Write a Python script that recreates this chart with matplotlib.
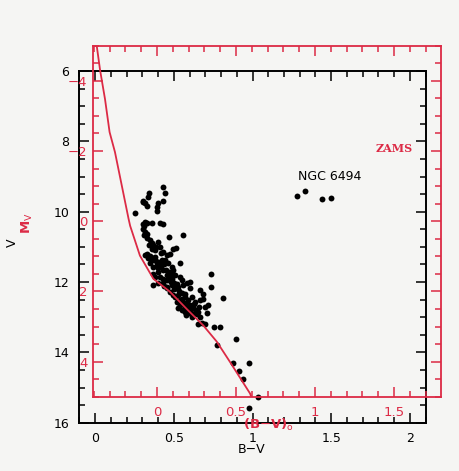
import matplotlib
matplotlib.use("Agg")
import matplotlib.pyplot as plt
from matplotlib.ticker import MultipleLocator, FixedLocator

# ---------------- data ----------------
# cluster stars (observed B-V, V)
star_bv = [0.434, 0.445, 0.434, 0.345, 0.339, 0.307, 0.318, 0.332, 0.303, 0.402, 0.396, 0.396, 0.254,
           0.318, 0.307, 0.328, 0.360, 0.303, 0.318, 0.311, 0.328, 0.349, 0.360, 0.371, 0.413, 0.434,
           0.472, 0.561, 0.402, 0.413, 0.381, 0.498, 0.515, 0.476, 0.455, 0.434, 0.318, 0.339, 0.360,
           0.381, 0.349, 0.371, 0.392, 0.413, 0.424, 0.445, 0.466, 0.540, 0.487, 0.498, 0.434, 0.402,
           0.371, 0.381, 0.413, 0.455, 0.476, 0.508, 0.540, 0.551, 0.604, 0.371, 0.402, 0.434, 0.455,
           0.487, 0.508, 0.529, 0.561, 0.582, 0.604, 0.667, 0.688, 0.735, 0.735, 0.811, 0.476, 0.498,
           0.529, 0.551, 0.572, 0.593, 0.614, 0.635, 0.667, 0.688, 0.519, 0.540, 0.561, 0.582, 0.529,
           0.551, 0.572, 0.593, 0.614, 0.635, 0.656, 0.699, 0.720, 0.709, 0.667, 0.678, 0.699, 0.656,
           0.758, 0.794, 0.773, 0.896, 0.614, 0.604, 0.879, 0.978, 0.917, 0.938, 1.037, 0.978,
           0.33, 0.35, 0.37, 0.39, 0.40, 0.42, 0.44, 0.45, 0.47, 0.49, 0.43, 0.46, 0.48, 0.50,
           0.52, 0.53, 0.55, 0.50, 0.46, 0.57, 0.58, 0.60, 0.62, 0.64, 0.57, 0.63, 0.66, 0.42,
           0.39, 0.36, 0.34, 0.31, 0.33, 0.44, 0.51, 0.54, 0.60, 0.65, 0.58, 0.49,
           1.281, 1.334, 1.440, 1.499]
star_v = [9.31, 9.48, 9.69, 9.48, 9.58, 9.72, 9.76, 9.84, 9.69, 9.76, 9.88, 9.97, 10.03,
          10.29, 10.35, 10.31, 10.33, 10.48, 10.57, 10.67, 10.76, 10.81, 10.88, 10.95, 10.33, 10.35,
          10.71, 10.67, 10.86, 11.00, 11.09, 11.05, 11.02, 11.19, 11.24, 11.14, 11.24, 11.33, 11.38,
          11.28, 11.47, 11.57, 11.52, 11.43, 11.38, 11.36, 11.47, 11.47, 11.57, 11.66, 11.66, 11.71,
          11.76, 11.86, 11.86, 11.81, 11.86, 11.81, 11.86, 11.95, 11.99, 12.09, 12.04, 12.04, 12.14,
          12.09, 12.18, 12.14, 12.09, 12.04, 12.18, 12.23, 12.34, 11.76, 12.15, 12.44, 12.28, 12.37,
          12.37, 12.47, 12.42, 12.52, 12.42, 12.57, 12.52, 12.47, 12.57, 12.66, 12.61, 12.71, 12.75,
          12.80, 12.85, 12.89, 12.94, 12.89, 12.85, 12.71, 12.66, 12.89, 12.98, 13.17, 13.20, 13.20,
          13.27, 13.27, 13.79, 13.63, 12.98, 12.80, 14.30, 14.29, 14.53, 14.77, 15.27, 15.58,
          11.20, 11.25, 11.32, 11.40, 11.60, 11.55, 11.50, 11.65, 11.72, 11.75, 11.92, 11.95, 12.00, 12.02,
          12.05, 12.25, 12.30, 12.20, 12.18, 12.35, 12.60, 12.65, 12.75, 12.80, 12.70, 12.62, 12.70, 11.18,
          11.00, 11.05, 10.95, 10.40, 10.62, 12.12, 12.43, 12.52, 12.85, 12.92, 12.95, 11.92,
          9.55, 9.41, 9.65, 9.62]

# ZAMS in intrinsic colour / absolute magnitude
zams_bv0 = [-0.39, -0.382, -0.36, -0.329, -0.30, -0.266, -0.18, -0.17, -0.108, -0.023, 0.082,
            0.188, 0.293, 0.378, 0.462, 0.589, 0.60]
zams_mv = [-5.3, -5.02, -4.30, -3.48, -2.54, -1.97, -0.07, 0.13, 0.98, 1.64, 2.01,
           2.50, 2.97, 3.43, 4.01, 4.91, 5.05]

obs_xticks = [0, 0.5, 1, 1.5, 2]
obs_xticklabels = ["0", "0.5", "1", "1.5", "2"]
obs_yticks = [6, 8, 10, 12, 14, 16]
int_xticks = [0, 0.5, 1, 1.5]
int_xticklabels = ["0", "0.5", "1", "1.5"]
int_yticks = [-4, -2, 0, 2, 4]

RED = "#dc2a45"
BG = "#f5f5f3"

# ---------------- figure ----------------
fig = plt.figure(figsize=(4.59, 4.71), dpi=100, facecolor=BG)

ax = fig.add_axes([0.1721, 0.1025, 0.7554, 0.7467])
ax.set_facecolor("none")
ax.set_xlim(-0.102, 2.10)
ax.set_ylim(16, 6)
ax.xaxis.set_major_locator(FixedLocator(obs_xticks))
ax.set_xticklabels(obs_xticklabels)
ax.xaxis.set_minor_locator(MultipleLocator(0.1))
ax.yaxis.set_major_locator(FixedLocator(obs_yticks))
ax.yaxis.set_minor_locator(MultipleLocator(0.5))
ax.tick_params(which="both", direction="in", top=True, right=True, color="black", width=1.1)
ax.tick_params(which="major", length=7, labelsize=9, pad=7)
ax.tick_params(which="minor", length=4)
for s in ax.spines.values():
    s.set_linewidth(1.4)
    s.set_color("black")

ax.scatter(star_bv, star_v, s=18, color="black", zorder=5, linewidths=0)
ax.text(1.493, 8.99, "NGC 6494", ha="center", va="center", fontsize=9, color="black",
        family="DejaVu Sans")

# red (intrinsic) axes
ax2 = fig.add_axes([0.2026, 0.1577, 0.7582, 0.7452])
ax2.set_facecolor("none")
ax2.set_xlim(-0.405, 1.797)
ax2.set_ylim(5, -5)
ax2.xaxis.set_major_locator(FixedLocator(int_xticks))
ax2.set_xticklabels(int_xticklabels)
ax2.xaxis.set_minor_locator(MultipleLocator(0.1))
ax2.yaxis.set_major_locator(FixedLocator(int_yticks))
ax2.yaxis.set_minor_locator(MultipleLocator(0.5))
ax2.tick_params(which="both", direction="in", top=True, right=True, color=RED,
                labelcolor=RED, width=1.1)
ax2.tick_params(which="major", length=7, labelsize=9.5)
ax2.tick_params(axis="y", which="major", pad=4)
ax2.tick_params(axis="x", which="major", pad=7)
ax2.tick_params(which="minor", length=4)
for s in ax2.spines.values():
    s.set_linewidth(1.3)
    s.set_color(RED)

ax2.plot(zams_bv0, zams_mv, color=RED, lw=1.3, zorder=3)
ax2.text(1.50, -2.06, "ZAMS", ha="center", va="center", fontsize=8, color=RED,
         family="DejaVu Serif", fontweight="bold")

# axis labels
fig.text(0.549, 0.0446, "B\u2212V", ha="center", va="center", fontsize=9, color="black")
fig.text(0.584, 0.0976, r"(B$-$V)$_\mathrm{o}$", ha="center", va="center", fontsize=9.5,
         color=RED, fontweight="bold")
fig.text(0.026, 0.484, "V", ha="center", va="center", fontsize=9, rotation=90, color="black")
fig.text(0.059, 0.527, r"M$_\mathrm{V}$", ha="center", va="center", fontsize=9.5, rotation=90,
         color=RED, fontweight="bold")

fig.savefig("out.png", dpi=100, facecolor=BG)
